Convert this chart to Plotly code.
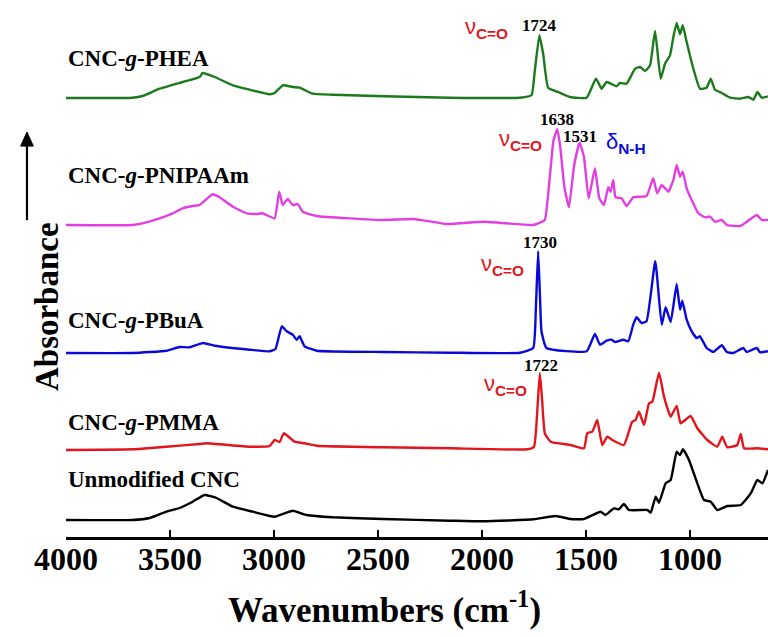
import plotly.graph_objects as go

# ---------------- data ----------------
names = ["Unmodified CNC", "CNC-<i>g</i>-PMMA", "CNC-<i>g</i>-PBuA",
         "CNC-<i>g</i>-PNIPAAm", "CNC-<i>g</i>-PHEA"]
colors = ["#000000", "#e3141c", "#0a0ad8", "#e23ee2", "#1b7a1b"]
offsets = [0.17, 0.87, 1.84, 3.12, 4.39]

cnc_wn = [4000, 3680, 3598, 3517, 3454, 3391, 3334, 3276, 3198, 3102, 2997, 2910, 2843, 2716, 2476,
          2151, 1991, 1751, 1646, 1574, 1510, 1430, 1406, 1366, 1342, 1318, 1294, 1205, 1189, 1165,
          1149, 1117, 1093, 1064, 1048, 1034, 1005, 965, 933, 900, 869, 821, 756, 708, 676, 652, 625]
cnc_ab = [0, 0, 0.02, 0.083, 0.12, 0.183, 0.25, 0.22, 0.133, 0.083, 0.033, 0.093, 0.05, 0.027, 0.01,
          -0.007, -0.013, 0.007, 0.04, 0.01, 0.01, 0.083, 0.05, 0.117, 0.107, 0.16, 0.10, 0.10, 0.073, 0.233,
          0.173, 0.367, 0.40, 0.683, 0.65, 0.707, 0.60, 0.367, 0.20, 0.183, 0.10, 0.14, 0.15, 0.267, 0.40, 0.367, 0.50]

pmma_wn = [4000, 3680, 3517, 3358, 3325, 3117, 3021, 2997, 2973, 2953, 2901, 2853, 2795, 2476, 2151,
           1783, 1750, 1734, 1722, 1712, 1698, 1670, 1574, 1510, 1494, 1470, 1446, 1422, 1398, 1374,
           1318, 1278, 1262, 1245, 1221, 1197, 1181, 1149, 1125, 1093, 1064, 1045, 997, 965, 917,
           869, 845, 821, 773, 756, 740, 676, 625]
pmma_ab = [0, 0.007, 0.033, 0.06, 0.067, 0.033, 0.04, 0.10, 0.08, 0.167, 0.083, 0.067, 0.043, 0.027, 0.017,
           0.007, 0.033, 0.40, 0.767, 0.533, 0.167, 0.083, 0.05, 0.017, 0.167, 0.183, 0.30, 0.05, 0.133, 0.10,
           0.05, 0.283, 0.30, 0.383, 0.25, 0.467, 0.483, 0.773, 0.533, 0.333, 0.44, 0.267, 0.34, 0.217, 0.10,
           0.033, 0.133, 0.027, 0.05, 0.16, 0.017, 0.017, 0.007]

pbua_wn = [4000, 3680, 3517, 3454, 3406, 3341, 3285, 3117, 3021, 2993, 2963, 2939, 2910, 2891, 2877,
           2853, 2795, 2476, 2154, 1818, 1754, 1741, 1730, 1721, 1714, 1690, 1497, 1457, 1433, 1401,
           1377, 1361, 1321, 1297, 1273, 1257, 1233, 1209, 1167, 1136, 1117, 1093, 1064, 1048, 1037,
           1016, 992, 968, 952, 920, 888, 847, 823, 792, 744, 727, 679, 663, 625]
pbua_ab = [0, 0, 0.023, 0.06, 0.057, 0.10, 0.073, 0.033, 0.017, 0.04, 0.267, 0.217, 0.183, 0.133, 0.167,
           0.067, 0.023, 0.01, 0.003, 0.003, 0.05, 0.45, 1.017, 0.55, 0.217, 0.05, 0.017, 0.19, 0.083, 0.123,
           0.133, 0.11, 0.133, 0.117, 0.283, 0.357, 0.30, 0.317, 0.917, 0.283, 0.457, 0.31, 0.69, 0.433, 0.523,
           0.333, 0.217, 0.15, 0.167, 0.05, 0.01, 0.077, 0.01, 0, 0.05, 0.01, 0.05, 0.007, 0.017]

pnip_wn = [4000, 3680, 3632, 3550, 3487, 3439, 3391, 3358, 3295, 3262, 3198, 3131, 3083, 3055, 2997,
           2975, 2958, 2934, 2910, 2886, 2862, 2795, 2476, 2328, 2168, 1991, 1754, 1722, 1698, 1674,
           1656, 1638, 1624, 1604, 1582, 1558, 1531, 1510, 1487, 1457, 1436, 1414, 1393, 1382, 1369,
           1358, 1329, 1305, 1273, 1209, 1177, 1158, 1136, 1120, 1104, 1080, 1064, 1048, 1035, 1016,
           992, 960, 928, 904, 880, 847, 823, 759, 711, 679, 655, 625]
pnip_ab = [0, 0, 0.017, 0.067, 0.117, 0.167, 0.19, 0.20, 0.307, 0.277, 0.183, 0.117, 0.11, 0.117, 0.067,
           0.333, 0.20, 0.26, 0.20, 0.21, 0.133, 0.09, 0.05, 0.06, 0.01, 0.033, 0, 0.023, 0.05, 0.483,
           0.85, 0.957, 0.783, 0.383, 0.177, 0.583, 0.823, 0.683, 0.267, 0.567, 0.267, 0.20, 0.377, 0.333, 0.45,
           0.277, 0.267, 0.19, 0.277, 0.29, 0.467, 0.317, 0.40, 0.367, 0.333, 0.45, 0.60, 0.483, 0.533, 0.367,
           0.25, 0.117, 0.077, 0.083, 0.033, 0.05, 0, -0.01, 0.057, 0.10, 0.05, 0.05]

phea_wn = [4000, 3680, 3632, 3550, 3439, 3358, 3343, 3285, 3198, 3117, 3021, 2997, 2958, 2910, 2877,
           2814, 2716, 2472, 2155, 1818, 1762, 1746, 1724, 1706, 1682, 1634, 1577, 1497, 1452, 1425,
           1401, 1353, 1337, 1305, 1264, 1240, 1216, 1192, 1168, 1141, 1120, 1096, 1080, 1064, 1048,
           1035, 1016, 984, 952, 920, 900, 880, 847, 807, 759, 719, 695, 676, 655, 625]
phea_ab = [0, 0.003, 0.02, 0.093, 0.16, 0.21, 0.25, 0.21, 0.127, 0.083, 0.037, 0.05, 0.127, 0.11, 0.103,
           0.043, 0.033, 0.017, 0.003, 0.003, 0.027, 0.277, 0.627, 0.443, 0.103, 0.06, 0.01, 0.003, 0.193, 0.093,
           0.16, 0.117, 0.15, 0.143, 0.293, 0.31, 0.27, 0.327, 0.67, 0.193, 0.343, 0.427, 0.61, 0.75, 0.637,
           0.727, 0.56, 0.293, 0.093, 0.103, 0.193, 0.083, 0.05, 0.003, -0.007, 0.01, -0.017, 0.06, 0.003, 0.017]

spectra = [(cnc_wn, cnc_ab), (pmma_wn, pmma_ab), (pbua_wn, pbua_ab), (pnip_wn, pnip_ab), (phea_wn, phea_ab)]
label_y = [0.58, 1.15, 2.17, 3.62, 4.79]

xticks = [4000, 3500, 3000, 2500, 2000, 1500, 1000]

# peak labels: (wavenumber pos, y, text)
peak_nums = [(1722, 5.12, "1724"), (1640, 4.18, "1638"), (1529, 4.01, "1531"),
             (1722, 2.95, "1730"), (1717, 1.72, "1722")]
nu_pos = [(1977, 5.09), (1813, 3.97), (1900, 2.72), (1885, 1.52)]
delta_pos = (1308, 3.94)

# ---------------- figure ----------------
fig = go.Figure()
for (wn, ab), off, col in zip(spectra, offsets, colors):
    fig.add_trace(go.Scatter(x=wn, y=[a + off for a in ab], mode="lines",
                             line=dict(color=col, width=2.4, shape="spline", smoothing=0.4),
                             showlegend=False, hoverinfo="skip"))

serif = "Liberation Serif"
sans = "Liberation Sans"
ann = []
for nm, yy in zip(names, label_y):
    ann.append(dict(x=4000, y=yy, xref="x", yref="y", xanchor="left", yanchor="middle",
                    text="<b>" + nm + "</b>", showarrow=False,
                    font=dict(family=serif, size=23, color="black")))
for xx, yy, t in peak_nums:
    ann.append(dict(x=xx, y=yy, xref="x", yref="y", text="<b>" + t + "</b>", showarrow=False,
                    font=dict(family=serif, size=17, color="black")))
for xx, yy in nu_pos:
    ann.append(dict(x=xx, y=yy, xref="x", yref="y", text="ν<sub><b>C=O</b></sub>", showarrow=False,
                    font=dict(family=sans, size=22, color="#e3141c")))
ann.append(dict(x=delta_pos[0], y=delta_pos[1], xref="x", yref="y", text="δ<sub><b>N-H</b></sub>",
                showarrow=False, font=dict(family=sans, size=22, color="#0a0ad8")))
# y title
ann.append(dict(x=-0.0556, y=0.43, xref="paper", yref="paper", text="<b>Absorbance</b>",
                textangle=-90, showarrow=False, font=dict(family=serif, size=33, color="black")))
# x title
ann.append(dict(x=0.454, y=-0.132, xref="paper", yref="paper", yanchor="middle",
                text="<b>Wavenumbers (cm<sup>-1</sup>)</b>", showarrow=False,
                font=dict(family=serif, size=35, color="black")))

# arrow next to the y title (line + head)
shapes = [dict(type="line", xref="paper", yref="paper", x0=-0.0556, x1=-0.0556,
               y0=0.59, y1=0.735, line=dict(color="black", width=2.2)),
          dict(type="path", xref="paper", yref="paper",
               path="M -0.0646 0.728 L -0.0556 0.754 L -0.0466 0.728 Z",
               fillcolor="black", line=dict(color="black", width=1))]

fig.update_layout(
    width=768, height=637,
    margin=dict(l=66, r=0, t=0, b=100),
    plot_bgcolor="white", paper_bgcolor="white",
    annotations=ann, shapes=shapes,
    xaxis=dict(range=[4000, 625], tickvals=xticks, ticktext=["<b>%d</b>" % v for v in xticks],
               ticks="inside", ticklen=7, tickwidth=2, tickcolor="black",
               showline=True, linewidth=2.5, linecolor="black", showgrid=False, zeroline=False,
               ticklabelstandoff=-8,
               tickfont=dict(family=serif, size=32, color="black")),
    yaxis=dict(range=[0, 5.37], showticklabels=False, showgrid=False, zeroline=False,
               showline=False, ticks=""),
)
fig.write_html("out.html")
